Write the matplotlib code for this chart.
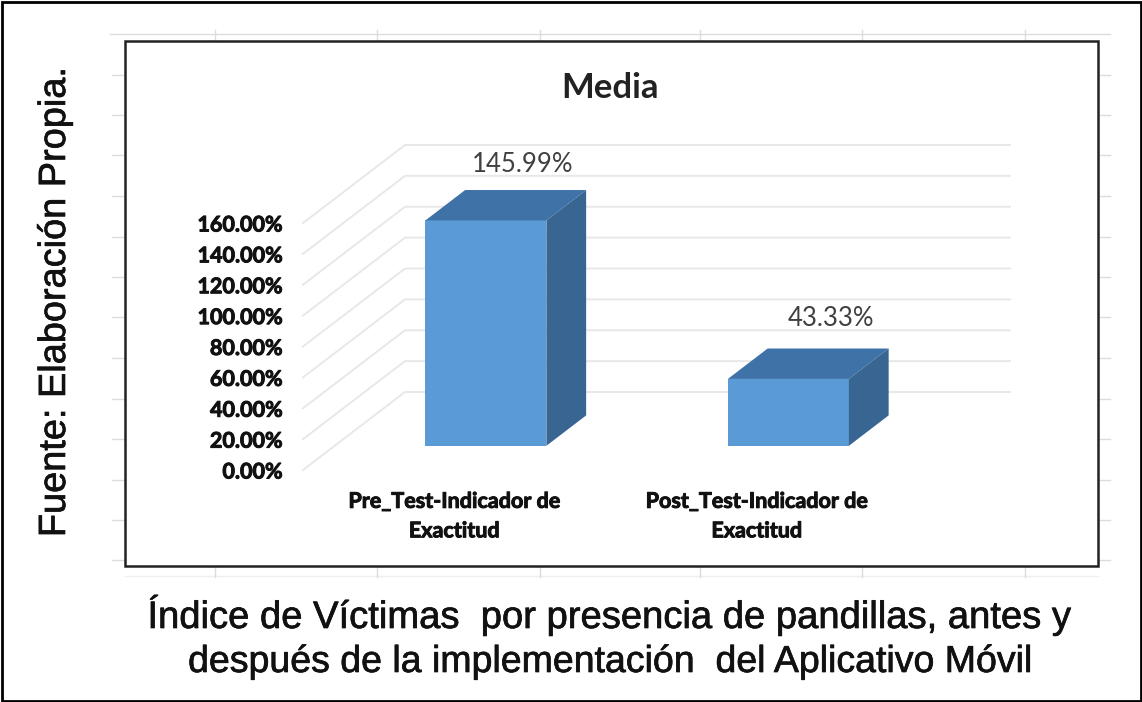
"""
Media chart: fake 3D column chart, pasted over a ruler-like frame with captions around it.
"""
import matplotlib
matplotlib.use('Agg')
import matplotlib.pyplot as plt
import matplotlib.patheffects as pe
from matplotlib.patches import Polygon, Rectangle

# -------- DATA --------
categories = ['Pre_Test-Indicador de\nExactitud', 'Post_Test-Indicador de\nExactitud']
values = [145.99, 43.33]
value_labels = ['145.99%', '43.33%']
y_ticks = [0, 20, 40, 60, 80, 100, 120, 140, 160]
y_tick_labels = ['0.00%', '20.00%', '40.00%', '60.00%', '80.00%', '100.00%', '120.00%', '140.00%', '160.00%']
chart_title = 'Media'
side_caption = 'Fuente: Elaboración Propia.'
bottom_caption = ['Índice de Víctimas  por presencia de pandillas, antes y',
                  'después de la implementación  del Aplicativo Móvil']
# -------- DATA. --------

W, H = 1142, 702
fig = plt.figure(figsize=(W / 100, H / 100), dpi=100, facecolor='white')

# ---- Background layer in pixel coordinates: borders and the faint ruler ticks
bg = fig.add_axes([0, 0, 1, 1])
bg.set_xlim(0, W)
bg.set_ylim(H, 0)
bg.axis('off')

bg.add_patch(Rectangle((1.5, 1.5), W - 3, H - 3, fill=False, edgecolor='black', linewidth=2))

faint = '#dcdcdc'
bg.plot([110, 1110], [34, 34], color=faint, lw=1)
bg.plot([125, 1098], [576, 576], color='#efefef', lw=1)
for x in [215, 377, 540, 700, 862, 1025]:
    bg.plot([x, x], [30, 41], color=faint, lw=1)
    bg.plot([x, x], [566, 577], color=faint, lw=1)
for y in [75, 115, 155, 196, 237, 277, 317, 358, 399, 439, 480, 520, 560]:
    bg.plot([112, 125], [y, y], color=faint, lw=1)
    bg.plot([1098, 1110], [y, y], color=faint, lw=1)

bg.add_patch(Rectangle((125, 41), 973, 525, facecolor='white', edgecolor='#222222', linewidth=1.8, zorder=3))

# ---- Captions
caption_font = dict(family='Liberation Sans', color='#111111', zorder=5)
heavy = [pe.withStroke(linewidth=0.5, foreground='#111111')]
bg.text(65, 302, side_caption, rotation=90, rotation_mode='anchor', ha='center', va='baseline',
        fontsize=27.3, path_effects=heavy, **caption_font)
bg.text(610, 628, bottom_caption[0], ha='center', va='baseline', fontsize=27.5, path_effects=heavy, **caption_font)
bg.text(610, 672, bottom_caption[1], ha='center', va='baseline', fontsize=27, path_effects=heavy, **caption_font)
bg.text(610, 88, chart_title, ha='center', va='center', fontsize=25, fontweight='bold',
        family='Lato', color='#222222', zorder=5)

# ---- Chart axes: the front plane of the 3D box, values on y and categories on x
left, right, top, bottom = 303, 908, 223, 470
ax = fig.add_axes([left / W, 1 - bottom / H, (right - left) / W, (bottom - top) / H])
ax.patch.set_alpha(0)
ax.set_xlim(0, len(categories))
ax.set_ylim(0, 160)
for spine in ax.spines.values():
    spine.set_visible(False)

# Floor depth of the box, as an offset in data units
depth_x = 102 / ((right - left) / len(categories))
depth_y = 78 / ((bottom - top) / 160)

# Walls
for tick in y_ticks:
    ax.plot([0, depth_x, len(categories) + depth_x], [tick, tick + depth_y, tick + depth_y],
            color='#e8e8e8', lw=1.4, clip_on=False, zorder=1, solid_joinstyle='miter')

# Columns
bar_width = 0.4
near, far = 0.31, 0.70
front_colour, top_colour, side_colour = '#5b9bd5', '#3f72a6', '#386592'
positions = [i + 0.5 for i in range(len(categories))]
label_offsets = [(17, 41), (23, 46)]

for pos, value, text, offset in zip(positions, values, value_labels, label_offsets):
    x0 = pos - bar_width / 2 + near * depth_x
    x1 = pos + bar_width / 2 + near * depth_x
    y0 = near * depth_y
    shift_x = (far - near) * depth_x
    shift_y = (far - near) * depth_y
    ax.bar(x0, value, width=x1 - x0, bottom=y0, align='edge', color=front_colour, clip_on=False, zorder=3)
    ax.add_patch(Polygon([(x0, y0 + value), (x1, y0 + value), (x1 + shift_x, y0 + value + shift_y),
                          (x0 + shift_x, y0 + value + shift_y)],
                         facecolor=top_colour, edgecolor='none', clip_on=False, zorder=3))
    ax.add_patch(Polygon([(x1, y0), (x1 + shift_x, y0 + shift_y), (x1 + shift_x, y0 + value + shift_y),
                          (x1, y0 + value)],
                         facecolor=side_colour, edgecolor='none', clip_on=False, zorder=3))
    ax.annotate(text, (pos + depth_x / 2, value + depth_y / 2), xytext=(offset[0] * 0.72, offset[1] * 0.72),
                textcoords='offset points', ha='center', va='center', fontsize=18.5,
                family='Lato', color='#404040', zorder=5, annotation_clip=False)

# Ticks
thick = [pe.withStroke(linewidth=0.7, foreground='#111111')]
ax.set_yticks(y_ticks)
ax.set_yticklabels(y_tick_labels, family='Lato', fontweight='bold', fontsize=15.5, color='#111111',
                   path_effects=thick)
ax.set_xticks(positions)
ax.set_xticklabels(categories, family='Lato', fontweight='bold', fontsize=15.5, color='#111111', linespacing=1.5,
                   path_effects=thick)
ax.tick_params(axis='y', length=0, pad=15)
ax.tick_params(axis='x', length=0, pad=15)

plt.savefig('out.png', dpi=100)
